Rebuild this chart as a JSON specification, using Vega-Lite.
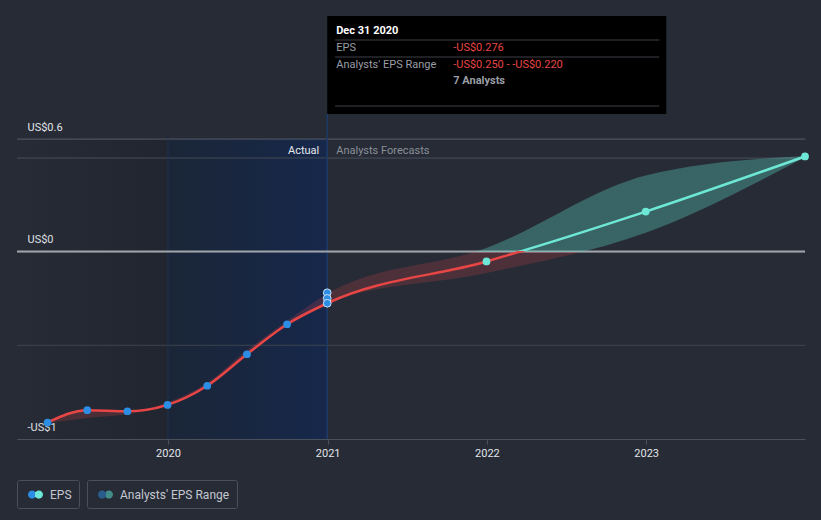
{
  "$schema": "https://vega.github.io/schema/vega-lite/v6.json",
  "width": 788,
  "height": 423,
  "autosize": {"type": "none"},
  "padding": {"left": 17, "top": 16, "right": 16, "bottom": 81},
  "background": "#262b36",
  "config": {
    "view": {"stroke": null},
    "font": "Roboto",
    "text": {"font": "Roboto"}
  },
  "datasets": {
    "eps": [
      {"date": "2019-03-31", "eps": -0.912, "kind": "Actual"},
      {"date": "2019-06-30", "eps": -0.846, "kind": "Actual"},
      {"date": "2019-09-30", "eps": -0.852, "kind": "Actual"},
      {"date": "2019-12-31", "eps": -0.818, "kind": "Actual"},
      {"date": "2020-03-31", "eps": -0.716, "kind": "Actual"},
      {"date": "2020-06-30", "eps": -0.548, "kind": "Actual"},
      {"date": "2020-09-30", "eps": -0.388, "kind": "Actual"},
      {"date": "2020-12-31", "eps": -0.276, "kind": "Actual"},
      {"date": "2021-12-31", "eps": -0.053, "kind": "Forecast"},
      {"date": "2022-12-31", "eps": 0.213, "kind": "Forecast"},
      {"date": "2023-12-31", "eps": 0.507, "kind": "Forecast"}
    ],
    "range": [
      {"date": "2019-03-31", "low": -0.915, "high": -0.908},
      {"date": "2019-06-30", "low": -0.888, "high": -0.852},
      {"date": "2019-09-30", "low": -0.868, "high": -0.85},
      {"date": "2019-12-31", "low": -0.82, "high": -0.805},
      {"date": "2020-03-31", "low": -0.716, "high": -0.7},
      {"date": "2020-06-30", "low": -0.548, "high": -0.525},
      {"date": "2020-09-30", "low": -0.388, "high": -0.37},
      {"date": "2020-12-31", "low": -0.272, "high": -0.225},
      {"date": "2021-12-31", "low": -0.115, "high": 0.019},
      {"date": "2022-12-31", "low": 0.1, "high": 0.405},
      {"date": "2023-12-31", "low": 0.503, "high": 0.51}
    ],
    "hover": [
      {"date": "2020-12-31", "eps": -0.276, "low": -0.25, "high": -0.22}
    ]
  },
  "layer": [
    {
      "data": {"name": "hover"},
      "mark": {"type": "rect", "color": {"gradient": "linear", "x1": 0, "y1": 0, "x2": 1, "y2": 0, "stops": [{"offset": 0, "color": "rgba(0,0,0,0)"}, {"offset": 1, "color": "rgba(5,5,12,0.15)"}]}},
      "encoding": {
        "x": {"datum": {"year": 2019, "month": 1, "date": 20, "utc": true}, "type": "temporal",
          "scale": {"type": "utc", "domain": [{"year": 2019, "month": 1, "date": 20, "utc": true}, {"year": 2023, "month": 12, "date": 31, "utc": true}]},
          "axis": {"title": null, "format": "%Y", "formatType": "time", "grid": false,
            "values": [{"year": 2020, "month": 1, "date": 1, "utc": true}, {"year": 2021, "month": 1, "date": 1, "utc": true}, {"year": 2022, "month": 1, "date": 1, "utc": true}, {"year": 2023, "month": 1, "date": 1, "utc": true}],
            "domainColor": "#4b515c", "tickColor": "#4b515c", "tickSize": 5, "labelPadding": 3,
            "labelColor": "#e2e4e8", "labelFontSize": 11, "labelFont": "Roboto", "labelFlush": false}},
        "x2": {"datum": {"year": 2020, "month": 1, "date": 1, "utc": true}},
        "y": {"datum": -1, "type": "quantitative",
          "scale": {"domain": [-1, 1.256], "nice": false, "zero": false},
          "axis": {"title": null, "values": [-1, -0.5, 0, 0.5, 0.6], "domain": false, "ticks": false,
            "labelExpr": "datum.value == 0.6 ? 'US$0.6' : datum.value == 0 ? 'US$0' : datum.value == -1 ? '-US$1' : ''",
            "labelAlign": "left", "labelBaseline": "middle", "labelPadding": -10, "labelOffset": -12, "labelFlush": false,
            "labelColor": "#e2e4e8", "labelFontSize": 11, "labelFont": "Roboto",
            "grid": true, "gridColor": "#3a404b", "gridWidth": 1}},
        "y2": {"datum": 0.6}
      }
    },
    {
      "data": {"name": "hover"},
      "mark": {"type": "rect", "color": {"gradient": "linear", "x1": 0, "y1": 0, "x2": 1, "y2": 0, "stops": [{"offset": 0, "color": "rgba(0,25,60,0.3)"}, {"offset": 1, "color": "rgba(0,35,105,0.42)"}]}},
      "encoding": {
        "x": {"datum": {"year": 2020, "month": 1, "date": 1, "utc": true}, "type": "temporal"},
        "x2": {"datum": {"year": 2020, "month": 12, "date": 31, "utc": true}},
        "y": {"datum": -1, "type": "quantitative"},
        "y2": {"datum": 0.6}
      }
    },
    {
      "data": {"name": "hover"},
      "mark": {"type": "rule", "color": "#3a404b", "strokeWidth": 1},
      "encoding": {
        "y": {"datum": 0.5, "type": "quantitative"}
      }
    },
    {
      "data": {"name": "hover"},
      "mark": {"type": "rule", "color": "#3a404b", "strokeWidth": 1},
      "encoding": {
        "y": {"datum": -0.5, "type": "quantitative"}
      }
    },
    {
      "data": {"name": "hover"},
      "mark": {"type": "rule", "color": "#4e5460", "strokeWidth": 1},
      "encoding": {
        "y": {"datum": 0.6, "type": "quantitative"}
      }
    },
    {
      "data": {"name": "hover"},
      "mark": {"type": "rule", "color": "#1f3352", "strokeWidth": 1},
      "encoding": {
        "x": {"datum": {"year": 2020, "month": 1, "date": 1, "utc": true}, "type": "temporal"},
        "y": {"datum": -1, "type": "quantitative"},
        "y2": {"datum": 0.6}
      }
    },
    {
      "data": {"name": "hover"},
      "mark": {"type": "rule", "color": "#1e3b66", "strokeWidth": 1.5},
      "encoding": {
        "x": {"field": "date", "type": "temporal"},
        "y": {"datum": -1, "type": "quantitative"},
        "y2": {"datum": 0.733}
      }
    },
    {
      "data": {"name": "hover"},
      "mark": {"type": "rule", "color": "#9fa3aa", "strokeWidth": 2},
      "encoding": {
        "y": {"datum": 0, "type": "quantitative"}
      }
    },
    {
      "data": {"name": "range"},
      "mark": {"type": "area", "interpolate": "monotone", "opacity": 1,
        "color": {"gradient": "linear", "x1": 0, "y1": 0, "x2": 0, "y2": 1, "stops": [
          {"offset": 0, "color": "rgba(95,211,192,0.34)"},
          {"offset": 0.358, "color": "rgba(95,211,192,0.34)"},
          {"offset": 0.358, "color": "rgba(232,69,69,0.2)"},
          {"offset": 1, "color": "rgba(232,69,69,0.2)"}]}},
      "encoding": {
        "x": {"field": "date", "type": "temporal"},
        "y": {"field": "low", "type": "quantitative", "title": null},
        "y2": {"field": "high"}
      }
    },
    {
      "data": {"name": "eps"},
      "mark": {"type": "line", "interpolate": "monotone", "strokeWidth": 2.5,
        "color": {"gradient": "linear", "x1": 0, "y1": 0, "x2": 0, "y2": 1, "stops": [
          {"offset": 0, "color": "#6ee8d6"},
          {"offset": 0.357, "color": "#6ee8d6"},
          {"offset": 0.357, "color": "#e84545"},
          {"offset": 1, "color": "#e84545"}]}},
      "encoding": {
        "x": {"field": "date", "type": "temporal"},
        "y": {"field": "eps", "type": "quantitative", "title": null}
      }
    },
    {
      "data": {"name": "eps"},
      "transform": [{"filter": "datum.kind == 'Actual'"}],
      "mark": {"type": "circle", "color": "#2b8de3", "opacity": 1, "size": 60},
      "encoding": {
        "x": {"field": "date", "type": "temporal"},
        "y": {"field": "eps", "type": "quantitative", "title": null}
      }
    },
    {
      "data": {"name": "eps"},
      "transform": [{"filter": "datum.kind == 'Forecast'"}],
      "mark": {"type": "circle", "color": "#6ee8d6", "opacity": 1, "size": 60},
      "encoding": {
        "x": {"field": "date", "type": "temporal"},
        "y": {"field": "eps", "type": "quantitative", "title": null}
      }
    },
    {
      "data": {"name": "hover"},
      "mark": {"type": "circle", "color": "#2b8de3", "opacity": 1, "size": 60, "stroke": "#cfe2f5", "strokeWidth": 1},
      "encoding": {
        "x": {"field": "date", "type": "temporal"},
        "y": {"field": "high", "type": "quantitative", "title": null}
      }
    },
    {
      "data": {"name": "hover"},
      "mark": {"type": "circle", "color": "#2b8de3", "opacity": 1, "size": 60, "stroke": "#cfe2f5", "strokeWidth": 1},
      "encoding": {
        "x": {"field": "date", "type": "temporal"},
        "y": {"field": "low", "type": "quantitative", "title": null}
      }
    },
    {
      "data": {"name": "hover"},
      "mark": {"type": "circle", "color": "#2b8de3", "opacity": 1, "size": 60, "stroke": "#cfe2f5", "strokeWidth": 1},
      "encoding": {
        "x": {"field": "date", "type": "temporal"},
        "y": {"field": "eps", "type": "quantitative", "title": null}
      }
    },
    {
      "data": {"name": "hover"},
      "mark": {"type": "text", "text": "Actual", "align": "right", "baseline": "middle", "dx": -8, "fontSize": 11, "color": "#e6e8ec"},
      "encoding": {
        "x": {"field": "date", "type": "temporal"},
        "y": {"datum": 0.536, "type": "quantitative"}
      }
    },
    {
      "data": {"name": "hover"},
      "mark": {"type": "text", "text": "Analysts Forecasts", "align": "left", "baseline": "middle", "dx": 9, "fontSize": 11, "color": "#8a8f98"},
      "encoding": {
        "x": {"field": "date", "type": "temporal"},
        "y": {"datum": 0.536, "type": "quantitative"}
      }
    },
    {
      "data": {"name": "hover"},
      "mark": {"type": "rect", "color": "#000000"},
      "encoding": {
        "x": {"field": "date", "type": "temporal"},
        "x2": {"datum": {"year": 2023, "month": 2, "date": 16, "utc": true}},
        "y": {"datum": 0.733, "type": "quantitative"},
        "y2": {"datum": 1.256}
      }
    },
    {
      "data": {"name": "hover"},
      "mark": {"type": "rule", "color": "#3d4047", "strokeWidth": 1},
      "encoding": {
        "x": {"datum": {"year": 2021, "month": 1, "date": 18, "utc": true}, "type": "temporal"},
        "x2": {"datum": {"year": 2023, "month": 1, "date": 31, "utc": true}},
        "y": {"datum": 1.128, "type": "quantitative"}
      }
    },
    {
      "data": {"name": "hover"},
      "mark": {"type": "rule", "color": "#3d4047", "strokeWidth": 1},
      "encoding": {
        "x": {"datum": {"year": 2021, "month": 1, "date": 18, "utc": true}, "type": "temporal"},
        "x2": {"datum": {"year": 2023, "month": 1, "date": 31, "utc": true}},
        "y": {"datum": 1.0373, "type": "quantitative"}
      }
    },
    {
      "data": {"name": "hover"},
      "mark": {"type": "rule", "color": "#3d4047", "strokeWidth": 1},
      "encoding": {
        "x": {"datum": {"year": 2021, "month": 1, "date": 18, "utc": true}, "type": "temporal"},
        "x2": {"datum": {"year": 2023, "month": 1, "date": 31, "utc": true}},
        "y": {"datum": 0.776, "type": "quantitative"}
      }
    },
    {
      "data": {"name": "hover"},
      "mark": {"type": "text", "text": "Dec 31 2020", "align": "left", "baseline": "middle", "dx": 9, "fontSize": 11, "fontWeight": "bold", "color": "#ffffff"},
      "encoding": {
        "x": {"field": "date", "type": "temporal"},
        "y": {"datum": 1.176, "type": "quantitative"}
      }
    },
    {
      "data": {"name": "hover"},
      "mark": {"type": "text", "text": "EPS", "align": "left", "baseline": "middle", "dx": 9, "fontSize": 11, "color": "#9a9ea6"},
      "encoding": {
        "x": {"field": "date", "type": "temporal"},
        "y": {"datum": 1.0853, "type": "quantitative"}
      }
    },
    {
      "data": {"name": "hover"},
      "mark": {"type": "text", "text": "-US$0.276", "align": "left", "baseline": "middle", "dx": 126, "fontSize": 11, "color": "#e84545"},
      "encoding": {
        "x": {"field": "date", "type": "temporal"},
        "y": {"datum": 1.0853, "type": "quantitative"}
      }
    },
    {
      "data": {"name": "hover"},
      "mark": {"type": "text", "text": "Analysts' EPS Range", "align": "left", "baseline": "middle", "dx": 9, "fontSize": 11, "color": "#9a9ea6"},
      "encoding": {
        "x": {"field": "date", "type": "temporal"},
        "y": {"datum": 0.9947, "type": "quantitative"}
      }
    },
    {
      "data": {"name": "hover"},
      "mark": {"type": "text", "text": "-US$0.250 - -US$0.220", "align": "left", "baseline": "middle", "dx": 126, "fontSize": 11, "color": "#e84545"},
      "encoding": {
        "x": {"field": "date", "type": "temporal"},
        "y": {"datum": 0.9947, "type": "quantitative"}
      }
    },
    {
      "data": {"name": "hover"},
      "mark": {"type": "text", "text": "7 Analysts", "align": "left", "baseline": "middle", "dx": 126, "fontSize": 11, "fontWeight": "bold", "color": "#9a9ea6"},
      "encoding": {
        "x": {"field": "date", "type": "temporal"},
        "y": {"datum": 0.909, "type": "quantitative"}
      }
    },
    {
      "data": {"values": []},
      "mark": {"type": "point", "filled": true, "opacity": 1,
        "fill": {"gradient": "linear", "x1": 0, "y1": 0, "x2": 1, "y2": 0, "stops": [
          {"offset": 0, "color": "#2b8de3"}, {"offset": 0.5, "color": "#2b8de3"},
          {"offset": 0.5, "color": "#6ee8d6"}, {"offset": 1, "color": "#6ee8d6"}]}},
      "encoding": {
        "shape": {"datum": "EPS", "type": "nominal",
          "scale": {"range": ["M-1,0A0.55,0.55,0,1,1,0.1,0A0.55,0.55,0,1,1,-1,0ZM-0.1,0A0.55,0.55,0,1,1,1,0A0.55,0.55,0,1,1,-0.1,0Z"]},
          "legend": {"title": null, "orient": "none", "legendX": 0, "legendY": 464,
            "strokeColor": "#4b515c", "cornerRadius": 2, "padding": 7, "symbolSize": 225, "symbolOffset": 4,
            "labelOffset": 7, "labelColor": "#c4c8cf", "labelFontSize": 12, "labelFont": "Roboto", "symbolStrokeWidth": 0}}
      }
    },
    {
      "data": {"values": []},
      "mark": {"type": "point", "filled": true, "opacity": 1,
        "fill": {"gradient": "linear", "x1": 0, "y1": 0, "x2": 1, "y2": 0, "stops": [
          {"offset": 0, "color": "#2a5d8c"}, {"offset": 0.5, "color": "#2a5d8c"},
          {"offset": 0.5, "color": "#418c89"}, {"offset": 1, "color": "#418c89"}]}},
      "encoding": {
        "size": {"datum": "Analysts' EPS Range", "type": "ordinal",
          "scale": {"range": [225, 225]},
          "legend": {"title": null, "orient": "none", "legendX": 70, "legendY": 464,
            "strokeColor": "#4b515c", "cornerRadius": 2, "padding": 7, "symbolOffset": 4,
            "symbolType": "M-1,0A0.55,0.55,0,1,1,0.1,0A0.55,0.55,0,1,1,-1,0ZM-0.1,0A0.55,0.55,0,1,1,1,0A0.55,0.55,0,1,1,-0.1,0Z",
            "labelOffset": 7, "labelColor": "#c4c8cf", "labelFontSize": 12, "labelFont": "Roboto", "symbolStrokeWidth": 0}}
      }
    }
  ]
}
